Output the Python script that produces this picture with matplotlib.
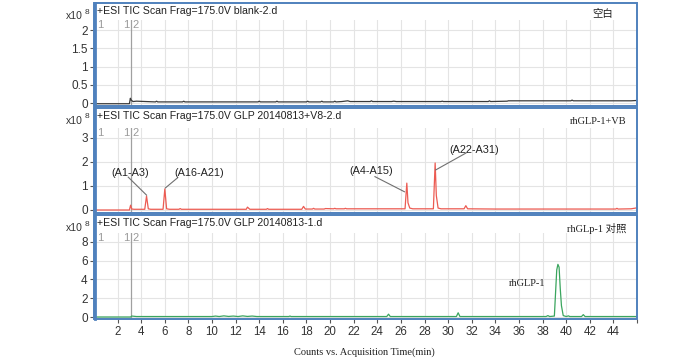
import matplotlib
matplotlib.use("Agg")
import matplotlib.pyplot as plt
from matplotlib.patches import Rectangle
from matplotlib.lines import Line2D

W, H = 700, 362

# ---- data (time in min, intensity in x10^8 counts) ----
t_blank = [0, 3.0, 3.08, 3.15, 3.3, 3.6, 5.2, 5.3, 5.4, 7.5, 7.6, 7.7, 13.9, 14.0, 14.1,
           15.4, 15.5, 15.6, 18.0, 18.1, 18.2, 19.2, 19.3, 19.4, 20.3, 20.4, 20.5, 21.0,
           21.5, 21.7, 22.0, 23.4, 23.5, 23.6, 25.2, 25.4, 25.6, 29.4, 29.5, 29.6, 33.4,
           33.5, 33.6, 35.0, 35.1, 40.4, 40.5, 40.6, 45.5, 46.0]
v_blank = [-0.02, -0.02, 0.13, 0.08, 0.04, 0.05, 0.03, 0.05, 0.03, 0.03, 0.05, 0.03, 0.03, 0.05, 0.03,
           0.03, 0.05, 0.03, 0.03, 0.05, 0.03, 0.03, 0.05, 0.03, 0.03, 0.05, 0.03, 0.04,
           0.06, 0.04, 0.04, 0.04, 0.06, 0.04, 0.04, 0.05, 0.04, 0.04, 0.05, 0.04, 0.04,
           0.06, 0.04, 0.05, 0.06, 0.06, 0.08, 0.06, 0.06, 0.07]

t_vb = [0, 3.0, 3.1, 3.2, 3.4, 4.3, 4.45, 4.6, 4.8, 5.85, 6.0, 6.15, 6.4, 7.2, 7.3, 7.4,
        12.9, 13.0, 13.2, 14.6, 14.7, 14.8, 17.6, 17.75, 17.9, 18.5, 18.6, 18.7, 19.5,
        19.6, 20.3, 20.4, 20.5, 21.2, 21.3, 21.4, 22.0, 26.35, 26.5, 26.6, 26.75, 27.0,
        28.75, 28.9, 29.0, 29.15, 29.4, 31.35, 31.5, 31.65, 34.0, 44.2, 44.3, 44.4, 45.5, 46.0]
v_vb = [0, 0, 0.2, 0.04, 0.03, 0.03, 0.58, 0.05, 0.03, 0.03, 0.88, 0.05, 0.03, 0.03, 0.06, 0.03,
        0.03, 0.12, 0.03, 0.03, 0.06, 0.03, 0.03, 0.15, 0.04, 0.04, 0.07, 0.04, 0.04,
        0.06, 0.05, 0.07, 0.05, 0.05, 0.07, 0.05, 0.05, 0.05, 1.12, 0.3, 0.08, 0.05,
        0.05, 1.96, 0.6, 0.08, 0.05, 0.05, 0.18, 0.05, 0.04, 0.04, 0.07, 0.04, 0.05, 0.09]

t_ref = [0, 3.1, 3.2, 3.6, 10.0, 10.3, 10.6, 11.0, 11.4, 11.8, 12.2, 12.6, 13.0, 13.4, 13.8,
         14.2, 16.5, 16.6, 16.7, 24.8, 24.95, 25.1, 30.7, 30.85, 31.0, 38.3, 38.45, 38.6,
         39.0, 39.2, 39.3, 39.4, 39.5, 39.6, 39.75, 40.0, 40.2, 40.3, 41.3, 41.45, 41.6, 46.0]
v_ref = [0, 0, 0.1, 0.05, 0.05, 0.1, 0.05, 0.12, 0.06, 0.1, 0.05, 0.12, 0.06, 0.1, 0.05,
         0.05, 0.05, 0.1, 0.05, 0.05, 0.3, 0.05, 0.05, 0.45, 0.05, 0.05, 0.15, 0.05,
         0.1, 5.0, 5.6, 5.3, 3.0, 1.2, 0.15, 0.05, 0.12, 0.05, 0.05, 0.25, 0.05, 0.05]

titles = ["+ESI TIC Scan Frag=175.0V blank-2.d",
          "+ESI TIC Scan Frag=175.0V GLP 20140813+V8-2.d",
          "+ESI TIC Scan Frag=175.0V GLP 20140813-1.d"]
sample_labels = ["空白", "rhGLP-1+VB", "rhGLp-1 对照"]
yticks_list = [[0, 0.5, 1, 1.5, 2], [0, 1, 2, 3], [0, 2, 4, 6, 8]]
xticks = list(range(2, 46, 2))

annots_vb = [("(A1-A3)", 3.1, 1.54, 2.9, 1.37, 4.45, 0.62),
             ("(A16-A21)", 8.9, 1.54, 7.05, 1.33, 6.05, 0.92),
             ("(A4-A15)", 23.5, 1.64, 23.8, 1.39, 26.3, 0.76),
             ("(A22-A31)", 32.2, 2.5, 31.5, 2.37, 28.95, 1.67)]

# ---- layout in pixels ----
# (border_top, border_bottom, grid_top, y0_pixel, px_per_unit)
panels = [(3, 106, 20, 103, 36.5),
          (108, 213, 128, 210, 24.0),
          (215, 319, 233, 317, 9.4)]
x_left, x_right = 94, 637
label_right = [613, 626, 626]

blue = "#4f81bd"
tickc = "#333333"
sans = ["Liberation Sans", "DejaVu Sans"]
serif = ["Liberation Serif", "DejaVu Serif"]
cjk_serif = ["Liberation Serif", "Noto Sans CJK SC"]

fig = plt.figure(figsize=(W / 100, H / 100), dpi=100)
fig.patch.set_facecolor("white")

series = [(t_blank, v_blank, "#3a3a3a"), (t_vb, v_vb, "#ec5b52"), (t_ref, v_ref, "#3aa55e")]

for i, (bt, bb, gt, y0, ppu) in enumerate(panels):
    ax = fig.add_axes([x_left / W, 1 - bb / H, (x_right - x_left) / W, (bb - gt) / H])
    ax.set_xlim(0, 46)
    ax.set_ylim(-(bb - y0) / ppu, (y0 - gt) / ppu)
    for s in ax.spines.values():
        s.set_visible(False)
    ax.set_yticks(yticks_list[i])
    ax.set_yticklabels([("%g" % v) for v in yticks_list[i]], fontfamily=sans)
    ax.set_xticks(xticks + [46])
    ax.grid(True, color="#e4e4e4", lw=0.8)
    ax.set_axisbelow(True)
    ax.tick_params(axis="y", direction="out", length=3, width=0.8, color="#555555",
                   labelsize=8.5, labelcolor=tickc, pad=1.5)
    if i < 2:
        ax.tick_params(axis="x", length=0, labelbottom=False)
    else:
        ax.set_xticklabels([str(x) for x in xticks] + [""], fontfamily=sans)
        ax.tick_params(axis="x", direction="out", length=3, width=0.8, color="#555555",
                       labelsize=8.3, labelcolor=tickc, pad=2)
    t, v, c = series[i]
    ax.plot(t, v, color=c, lw=0.9, zorder=3)
    ax.axvline(3.1, color="#a0a0a0", lw=0.9, zorder=2)
    ytop = ax.get_ylim()[1]
    ax.text(0.25, ytop, "1", color="#9a9a9a", fontsize=8, va="top", ha="left", fontfamily=sans)
    ax.text(3.0, ytop, "1", color="#9a9a9a", fontsize=8, va="top", ha="right", fontfamily=sans)
    ax.text(3.25, ytop, "2", color="#9a9a9a", fontsize=8, va="top", ha="left", fontfamily=sans)

    # border
    fig.patches.append(Rectangle((x_left / W, 1 - bb / H), (x_right - x_left) / W, (bb - bt) / H,
                                 transform=fig.transFigure, fill=False, edgecolor=blue, lw=1.4,
                                 zorder=5))
    fig.lines.append(Line2D([(x_left + 0.5) / W] * 2, [1 - bb / H, 1 - bt / H],
                            transform=fig.transFigure, color=blue, lw=2.0, zorder=6))
    # header text
    fig.text(97 / W, 1 - (bt + 8.5) / H, titles[i], fontsize=7.6, color="#222222",
             va="center", ha="left", fontfamily=sans)
    fig.text(66 / W, 1 - (bt + 13) / H, "x10", fontsize=7.5, color=tickc, va="center",
             ha="left", fontfamily=sans)
    fig.text(85 / W, 1 - (bt + 9) / H, "8", fontsize=6, color=tickc, va="center",
             ha="left", fontfamily=sans)
    fig.text(label_right[i] / W, 1 - (bt + 11 if i == 0 else bt + 14) / H, sample_labels[i],
             fontsize=7.5, color="#222222", va="center", ha="right", fontfamily=cjk_serif)

    if i == 1:
        for lab, tx, ty, x0, yy0, x1, yy1 in annots_vb:
            ax.plot([x0, x1], [yy0, yy1], color="#707070", lw=0.8, zorder=4)
            ax.text(tx, ty, lab, fontsize=7.8, color="#222222", ha="center", va="center",
                    fontfamily=sans, zorder=4)
    if i == 2:
        ax.text(36.7, 3.6, "rhGLP-1", fontsize=7.5, color="#222222", ha="center", va="center",
                fontfamily=serif)

fig.text(364 / W, 1 - 352 / H, "Counts vs. Acquisition Time(min)", fontsize=7.5,
         color="#222222", ha="center", va="center", fontfamily=serif)

fig.savefig("out.png", dpi=100)
